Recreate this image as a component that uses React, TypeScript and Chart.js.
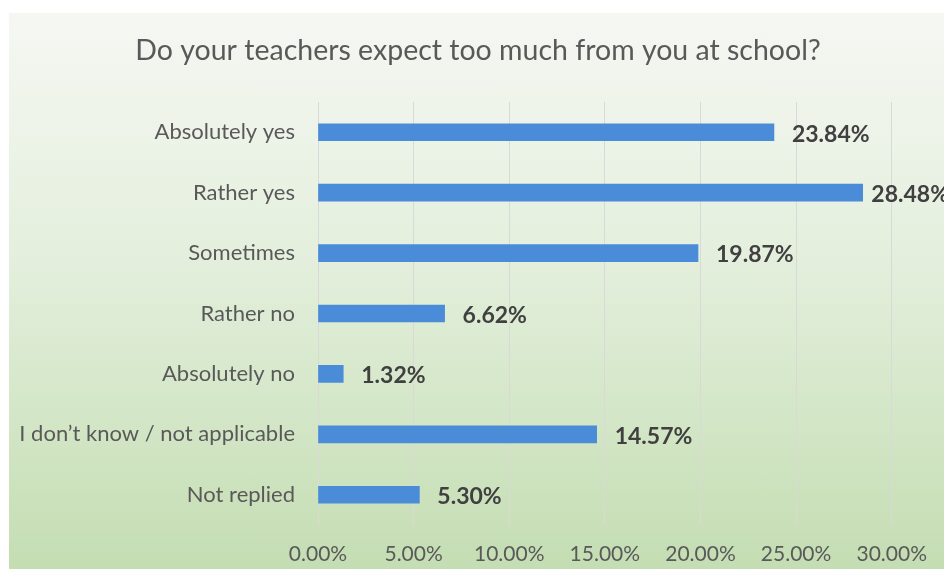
import React, { useEffect, useRef } from "react";
import { Chart, registerables } from "chart.js";

Chart.register(...registerables);

const TITLE = "Do your teachers expect too much from you at school?";
const categories = [
  "Absolutely yes",
  "Rather yes",
  "Sometimes",
  "Rather no",
  "Absolutely no",
  "I don\u2019t know / not applicable",
  "Not replied",
];
const values = [23.84, 28.48, 19.87, 6.62, 1.32, 14.57, 5.3];
const xMin = 0;
const xMax = 30;
const xStep = 5;

const FONT = "Lato, 'Open Sans', sans-serif";

export default function App() {
  const ref = useRef<HTMLCanvasElement | null>(null);

  useEffect(() => {
    if (!ref.current) return;
    const titlePlugin = {
      id: "customTitle",
      afterDraw(chart: any) {
        const ctx = chart.ctx;
        ctx.save();
        ctx.font = `28.5px ${FONT}`;
        ctx.fillStyle = "#595959";
        ctx.textAlign = "center";
        ctx.textBaseline = "middle";
        ctx.fillText(TITLE, 478, 51);
        ctx.restore();
      },
    };
    const labelPlugin = {
      id: "barLabels",
      afterDatasetsDraw(chart: any) {
        const ctx = chart.ctx;
        const meta = chart.getDatasetMeta(0);
        ctx.save();
        ctx.font = `bold 23px ${FONT}`;
        ctx.fillStyle = "#404040";
        ctx.textAlign = "left";
        ctx.textBaseline = "middle";
        meta.data.forEach((bar: any, i: number) => {
          const text = values[i].toFixed(2) + "%";
          const w = ctx.measureText(text).width;
          const x = Math.min(bar.x + 18, chart.width + 5 - w);
          ctx.fillText(text, x, bar.y + 2);
        });
        ctx.restore();
      },
    };
    const chart = new Chart(ref.current, {
      type: "bar",
      data: {
        labels: categories,
        datasets: [
          {
            data: values,
            backgroundColor: "#4a8cd8",
            borderWidth: 0,
            barThickness: 17,
          },
        ],
      },
      options: {
        animation: false,
        responsive: false,
        indexAxis: "y",
        layout: { padding: { top: 102, right: 49, bottom: 0, left: 0 } },
        plugins: {
          legend: { display: false },
          title: { display: false },
          tooltip: { enabled: false },
        },
        scales: {
          x: {
            min: xMin,
            max: xMax,
            ticks: {
              stepSize: xStep,
              callback: (v: any) => Number(v).toFixed(2) + "%",
              font: { family: FONT, size: 21 },
              color: "#595959",
              padding: 17,
            },
            grid: { color: "#d9d9d9", drawTicks: false },
            border: { display: false },
            afterFit: (s: any) => {
              s.height = 44;
            },
          },
          y: {
            ticks: {
              font: { family: FONT, size: 22 },
              color: "#595959",
              padding: 23,
            },
            grid: { display: false, drawTicks: false },
            border: { display: false },
            afterFit: (s: any) => {
              s.width = 318;
            },
          },
        },
      },
      plugins: [titlePlugin, labelPlugin],
    } as any);
    return () => chart.destroy();
  }, []);

  return (
    <div
      style={{
        position: "absolute",
        left: 0,
        top: 0,
        width: 944,
        height: 569,
        background: "#ffffff",
        overflow: "hidden",
      }}
    >
      <div
        style={{
          position: "absolute",
          left: 9,
          top: 13,
          right: 0,
          bottom: 0,
          background: "linear-gradient(to bottom, #f6f7f3 0%, #e3efdc 45%, #c4ddb2 100%)",
        }}
      />
      <canvas
        ref={ref}
        width={944}
        height={569}
        style={{ position: "absolute", left: 0, top: 0, width: 944, height: 569, display: "block" }}
      />
    </div>
  );
}
